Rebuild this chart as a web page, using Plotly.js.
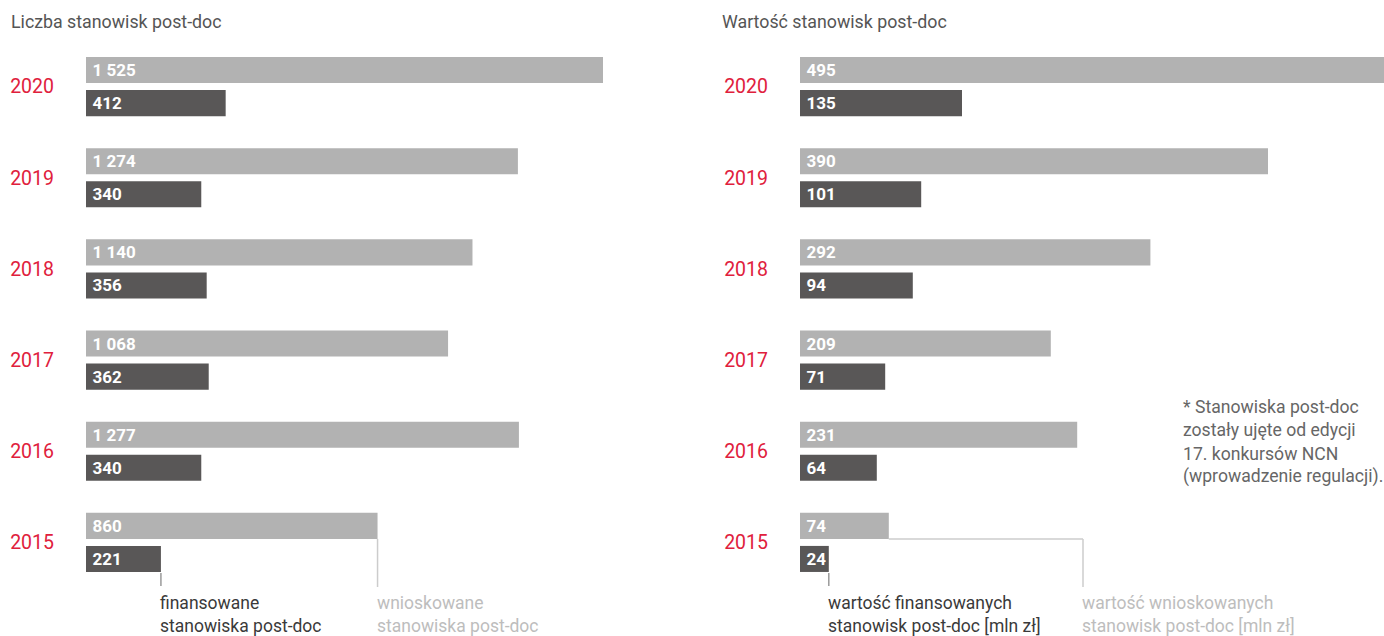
<!DOCTYPE html>
<html>
<head>
<meta charset="utf-8">
<script src="https://cdn.plot.ly/plotly-3.0.1.min.js"></script>
<style>html,body{margin:0;padding:0;background:#fff;}#chart{width:1384px;height:636px;}</style>
</head>
<body>
<div id="chart"></div>
<script>
// ---- data ----
const years = ['2020', '2019', '2018', '2017', '2016', '2015'];
const countRequested = [1525, 1274, 1140, 1068, 1277, 860];
const countFunded = [412, 340, 356, 362, 340, 221];
const valueRequested = [495, 390, 292, 209, 231, 74];
const valueFunded = [135, 101, 94, 71, 64, 24];
const leftTitle = 'Liczba stanowisk post-doc';
const rightTitle = 'Wartość stanowisk post-doc';
const legendLeftFunded = 'finansowane<br>stanowiska post-doc';
const legendLeftRequested = 'wnioskowane<br>stanowiska post-doc';
const legendRightFunded = 'wartość finansowanych<br>stanowisk post-doc [mln zł]';
const legendRightRequested = 'wartość wnioskowanych<br>stanowisk post-doc [mln zł]';
const footnoteLines = ['* Stanowiska post-doc', 'zostały ujęte od edycji', '17. konkursów NCN', '(wprowadzenie regulacji).'];

// ---- style ----
const W = 1384, H = 636;
const LIGHT = '#b2b2b2', DARK = '#595757', RED = '#e0203c';
const FONT = 'Roboto, "DejaVu Sans", sans-serif';
const px = v => v / W;            // x px -> paper
const py = v => (H - v) / H;      // y px -> paper

const leftScale = 517 / 1525;     // px per unit
const rightScale = 1.2;
const leftX0 = 86, leftX1 = 700, rightX0 = 800, rightX1 = 1384;

function barTrace(vals, color, xa, ya) {
  return {
    type: 'bar', orientation: 'h', y: years, x: vals,
    xaxis: xa, yaxis: ya,
    marker: {color: color, line: {width: 0}},
    texttemplate: '\u2009%{x:,}', textposition: 'inside', insidetextanchor: 'start',
    textangle: 0, constraintext: 'none',
    textfont: {family: FONT, size: 17, color: '#ffffff', weight: 'bold'},
    hoverinfo: 'skip', cliponaxis: true
  };
}

const data = [
  barTrace(countFunded, DARK, 'x', 'y'),
  barTrace(countRequested, LIGHT, 'x', 'y'),
  barTrace(valueFunded, DARK, 'x2', 'y2'),
  barTrace(valueRequested, LIGHT, 'x2', 'y2')
];

const yDom = [py(588), py(41)];
const catOrder = years.slice().reverse();
function yAxis(standoff) {
  return {
    type: 'category', categoryorder: 'array', categoryarray: catOrder,
    range: [-0.5, catOrder.length - 0.5], domain: yDom,
    showgrid: false, zeroline: false, showline: false, ticks: '',
    tickfont: {family: FONT, size: 19.5, color: RED},
    ticklabelstandoff: standoff, fixedrange: true
  };
}
function xAxis(x0, x1, scale) {
  return {
    domain: [px(x0), px(x1)], range: [0, (x1 - x0) / scale],
    showgrid: false, zeroline: false, showline: false, showticklabels: false, ticks: '',
    fixedrange: true
  };
}

const leftLegendX = countFunded[5];
const leftLegendX2 = countRequested[5];
const rightLegendX = valueFunded[5];
const rightLegendX2 = (1083 - rightX0) / rightScale;

const lineDark = {color: '#9a9a9a', width: 1.5};
const lineLight = {color: '#cccccc', width: 1.5};

const shapes = [
  {type: 'line', xref: 'x', yref: 'paper', x0: leftLegendX, x1: leftLegendX, y0: py(573), y1: py(586), line: lineDark},
  {type: 'line', xref: 'x', yref: 'paper', x0: leftLegendX2, x1: leftLegendX2, y0: py(539), y1: py(587), line: lineLight},
  {type: 'line', xref: 'x2', yref: 'paper', x0: rightLegendX, x1: rightLegendX, y0: py(573), y1: py(586), line: lineDark},
  {type: 'line', xref: 'x2', yref: 'paper', x0: valueRequested[5], x1: rightLegendX2, y0: py(539), y1: py(539), line: lineLight},
  {type: 'line', xref: 'x2', yref: 'paper', x0: rightLegendX2, x1: rightLegendX2, y0: py(539), y1: py(587), line: lineLight}
];

function legendAnn(xref, x, text, color) {
  return {xref: xref, yref: 'paper', x: x, y: py(590.5), xanchor: 'left', yanchor: 'top',
    text: text, align: 'left', showarrow: false, xshift: -3,
    font: {family: FONT, size: 17.5, color: color}};
}

const annotations = [
  {xref: 'paper', yref: 'paper', x: px(9), y: py(21), xanchor: 'left', yanchor: 'middle', text: leftTitle,
   showarrow: false, font: {family: FONT, size: 17.8, color: '#555555'}},
  {xref: 'paper', yref: 'paper', x: px(720), y: py(21), xanchor: 'left', yanchor: 'middle', text: rightTitle,
   showarrow: false, font: {family: FONT, size: 17.8, color: '#555555'}},
  legendAnn('x', leftLegendX, legendLeftFunded, '#3a3a3a'),
  legendAnn('x', leftLegendX2, legendLeftRequested, '#bdbdbd'),
  legendAnn('x2', rightLegendX, legendRightFunded, '#3a3a3a'),
  legendAnn('x2', rightLegendX2, legendRightRequested, '#bdbdbd')
];
footnoteLines.forEach((t, i) => {
  annotations.push({xref: 'paper', yref: 'paper', x: px(1181), y: py(407 + i * 23.3), xanchor: 'left', yanchor: 'middle',
    text: t, showarrow: false, font: {family: FONT, size: 17.6, color: '#666666'}});
});

const layout = {
  width: W, height: H, margin: {l: 0, r: 0, t: 0, b: 0},
  paper_bgcolor: '#ffffff', plot_bgcolor: '#ffffff',
  showlegend: false, barmode: 'group', bargap: 0.275, bargroupgap: 0.212,
  separators: ', ',
  font: {family: FONT},
  xaxis: xAxis(leftX0, leftX1, leftScale),
  xaxis2: xAxis(rightX0, rightX1, rightScale),
  yaxis: Object.assign(yAxis(31), {anchor: 'x'}),
  yaxis2: Object.assign(yAxis(31), {anchor: 'x2'}),
  shapes: shapes, annotations: annotations
};

Plotly.newPlot('chart', data, layout, {staticPlot: true, displayModeBar: false});
</script>
</body>
</html>
